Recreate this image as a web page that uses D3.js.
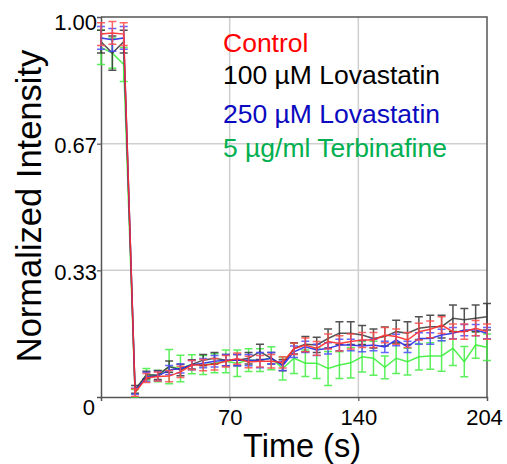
<!DOCTYPE html>
<html>
<head>
<meta charset="utf-8">
<script src="https://cdn.jsdelivr.net/npm/d3@7"></script>
<style>
  body { margin: 0; background: #fff; }
  svg text { font-family: "Liberation Sans", Arial, sans-serif; }
</style>
</head>
<body>
<div id="chart"></div>
<script>
// time points (s), one frame every 6 s
const times = [0, 6, 12, 18, 24, 30, 36, 42, 48, 54, 60, 66, 72, 78, 84, 90, 96, 102,
               108, 114, 120, 126, 132, 138, 144, 150, 156, 162, 168, 174, 180, 186, 192, 198, 204];

const control = [.955, .958, .955, .012, .050, .054, .055, .066, .084, .084, .086, .094, .101, .092, .094, .094, .091, .127,
                 .137, .128, .146, .141, .146, .150, .150, .163, .159, .150, .172, .178, .189, .172, .172, .181, .172];
const controlErr = [.03, .03, .03, .01, .012, .012, .015, .015, .012, .015, .015, .015, .015, .015, .015, .018, .015, .015,
                    .018, .018, .02, .02, .02, .02, .02, .02, .02, .02, .022, .022, .022, .02, .02, .02, .02];

const lova100 = [.935, .905, .935, .020, .058, .058, .080, .071, .086, .097, .102, .097, .097, .102, .119, .102, .084, .128,
                 .139, .137, .154, .168, .168, .163, .154, .159, .172, .168, .181, .185, .185, .207, .203, .207, .211];
const lova100Err = [.03, .045, .03, .01, .01, .012, .015, .015, .012, .015, .015, .015, .015, .015, .02, .015, .015, .015,
                    .02, .02, .025, .03, .03, .025, .025, .025, .03, .03, .03, .03, .03, .035, .03, .035, .035];

const lova250 = [.945, .940, .945, .015, .053, .055, .071, .075, .084, .089, .094, .097, .097, .097, .097, .102, .082, .119,
                 .132, .124, .128, .137, .137, .134, .137, .132, .150, .132, .154, .154, .163, .168, .176, .176, .168];
const lova250Err = [.03, .03, .03, .008, .012, .012, .012, .012, .012, .012, .015, .015, .015, .015, .02, .015, .012, .015,
                    .015, .015, .015, .015, .015, .015, .015, .015, .015, .015, .015, .015, .015, .015, .015, .015, .015];

const terb = [.920, .905, .875, .010, .060, .055, .080, .075, .086, .084, .089, .094, .089, .097, .097, .102, .075, .102,
              .089, .089, .075, .084, .090, .106, .102, .078, .102, .093, .106, .108, .108, .128, .093, .137, .131];
const terbErr = [.045, .04, .045, .01, .015, .015, .045, .035, .025, .025, .025, .03, .035, .03, .03, .03, .03, .04,
                 .035, .04, .045, .035, .04, .04, .045, .03, .04, .035, .035, .035, .04, .045, .04, .035, .035];

const xTicks = [68, 136, 204], xTickLabels = ["70", "140", "204"];
const yTicks = [1 / 3, 2 / 3, 1], yTickLabels = ["0.33", "0.67", "1.00"];

const series = [
  {name: "5 \u00b5g/ml Terbinafine", values: terb, err: terbErr, line: "#3cf03c", bar: "#40ee40", text: "#00b050"},
  {name: "100 \u00b5M Lovastatin", values: lova100, err: lova100Err, line: "#404040", bar: "#333333", text: "#000000"},
  {name: "250 \u00b5M Lovastatin", values: lova250, err: lova250Err, line: "#2a2ae8", bar: "#4a4aff", text: "#0a0ac0"},
  {name: "Control", values: control, err: controlErr, line: "#ff2a2a", bar: "#ff4a4a", text: "#ff0000"}
];
const legendOrder = ["Control", "100 \u00b5M Lovastatin", "250 \u00b5M Lovastatin", "5 \u00b5g/ml Terbinafine"];
const legendY = [52, 84, 123, 157];

const W = 507, H = 464;
const margin = {top: 17, right: 20, bottom: 67, left: 101};
const width = W - margin.left - margin.right,
      height = H - margin.top - margin.bottom;

const svg = d3.select("#chart").append("svg")
  .attr("width", W)
  .attr("height", H);

const g = svg.append("g")
  .attr("transform", "translate(" + margin.left + "," + margin.top + ")");

const x = d3.scaleLinear().domain([0, 204]).range([0, width]);
const y = d3.scaleLinear().domain([0, 1]).range([height, 0]);

// grid
g.append("g").selectAll("line")
  .data(xTicks.slice(0, 2))
  .join("line")
    .attr("x1", d => x(d)).attr("x2", d => x(d))
    .attr("y1", 0).attr("y2", height)
    .attr("stroke", "#cfcfcf").attr("stroke-width", 1.5);
g.append("g").selectAll("line")
  .data(yTicks.slice(0, 2))
  .join("line")
    .attr("y1", d => y(d)).attr("y2", d => y(d))
    .attr("x1", 0).attr("x2", width)
    .attr("stroke", "#cfcfcf").attr("stroke-width", 1.5);

// frame (top and right)
g.append("path")
  .attr("d", `M0,0H${width}V${height}`)
  .attr("fill", "none")
  .attr("stroke", "#555")
  .attr("stroke-width", 1.5);

// axes
const xAxis = d3.axisBottom(x)
  .tickValues(xTicks)
  .tickSize(4)
  .tickFormat((d, i) => xTickLabels[i]);
const yAxis = d3.axisLeft(y)
  .tickValues(yTicks)
  .tickSize(4)
  .tickFormat((d, i) => yTickLabels[i]);

const gx = g.append("g")
  .attr("transform", "translate(0," + height + ")")
  .call(xAxis);
const gy = g.append("g").call(yAxis);

[gx, gy].forEach(a => {
  a.select(".domain").attr("stroke", "#555").attr("stroke-width", 1.5);
  a.selectAll(".tick line").attr("stroke", "#555").attr("stroke-width", 1.2);
  a.selectAll(".tick text").attr("fill", "#000").style("font-size", "22px");
});
gx.selectAll(".tick text").attr("dy", "0.95em");
gx.selectAll(".tick").filter(d => d === 204).select("text").attr("dx", -3);
gy.selectAll(".tick text").attr("x", -4).attr("dy", (d, i) => i === 2 ? "0.55em" : "0.4em");
gx.selectAll(".tick").filter(d => d === 204).select("line").remove();
gy.selectAll(".tick").filter(d => d === 1).select("line").remove();

// shared origin label
g.append("text")
  .attr("x", -6).attr("y", height + 18)
  .attr("text-anchor", "end")
  .style("font-size", "22px")
  .text("0");

// series
const line = d3.line()
  .x((d, i) => x(times[i]))
  .y(d => y(d));
const cap = 4;

series.forEach(s => {
  const sg = g.append("g");
  const pts = s.values.map((v, i) => ({t: times[i], v: v, e: s.err[i]}));

  sg.append("path")
    .datum(s.values)
    .attr("d", line)
    .attr("fill", "none")
    .attr("stroke", s.line)
    .attr("stroke-width", 1.5)
    .attr("stroke-opacity", 0.9);

  sg.append("g")
    .attr("stroke", s.bar)
    .attr("stroke-width", 1.5)
    .attr("stroke-opacity", 0.85)
    .selectAll("path")
    .data(pts)
    .join("path")
      .attr("fill", "none")
      .attr("d", d => {
        const cx = x(d.t), y0 = y(d.v - d.e), y1 = y(d.v + d.e);
        return `M${cx - cap},${y0}H${cx + cap}M${cx},${y0}V${y1}M${cx - cap},${y1}H${cx + cap}`;
      });
});

// legend
svg.append("g").selectAll("text")
  .data(legendOrder)
  .join("text")
    .attr("x", 223)
    .attr("y", (d, i) => legendY[i])
    .style("font-size", "26.5px")
    .attr("fill", d => series.find(s => s.name === d).text)
    .text(d => d);

// axis titles
svg.append("text")
  .attr("x", 302).attr("y", 457)
  .attr("text-anchor", "middle")
  .style("font-size", "32.5px")
  .text("Time (s)");

svg.append("text")
  .attr("transform", "translate(41,206) rotate(-90)")
  .attr("text-anchor", "middle")
  .style("font-size", "34.5px")
  .text("Normalized Intensity");
</script>
</body>
</html>
